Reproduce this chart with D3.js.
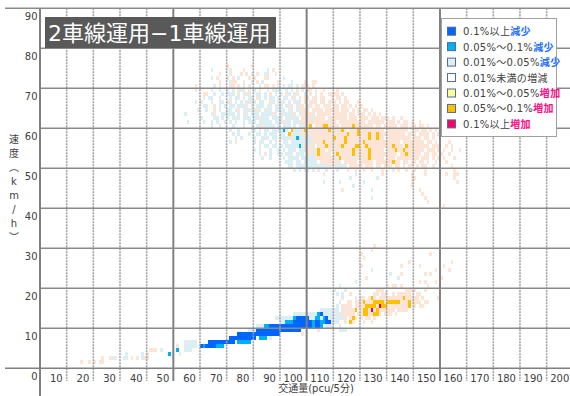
<!DOCTYPE html>
<html><head><meta charset="utf-8">
<script src="https://cdn.jsdelivr.net/npm/d3@7"></script>
<style>
body{margin:0;background:#fff}
svg{display:block}
text{font-family:"DejaVu Sans","Noto Sans CJK JP",sans-serif;fill:#404040}
</style>
</head><body>
<svg id="chart" width="570" height="396"></svg>
<script>
// ---- chart text ----
const chartTitle = "2車線運用−1車線運用";
const xTitle = "交通量(pcu/5分)";
const yTitleChars = ["速", "度", "︵", "k", "m", "/", "h", "︶"];
const xTickValues = d3.range(0, 201, 10);
const yTickValues = d3.range(0, 91, 10);

// ---- change classes (code, label, coloured suffix) ----
const classCodes = ["b", "c", "l", "n", "p", "o", "r"];
const classLabels = ["0.1%以上", "0.05%～0.1%", "0.01%～0.05%", "0.01%未満の増減", "0.01%～0.05%", "0.05%～0.1%", "0.1%以上"];
const classSuffix = ["減少", "減少", "減少", "", "増加", "増加", "増加"];

// ---- cells: [speed km/h, row string]; each char is one pcu step ----
// '.' none, b/c/l decrease classes, p/o/r increase classes; '|' every 10 pcu
const upperStartPcu = 50;
const upperRows = [
  [75, "..........|..........|p........p"],
  [74, "..........|....l.....|.p....p...|.....l.p.."],
  [73, "..........|.......p..|.l...p.p.l|.p..ll..p."],
  [72, "..........|....l.p...|p.p.l...p.|p...pp....|.l........"],
  [71, "..........|.......p..|.lpp..p..p|.p.l.....p|....l....p|..pp......"],
  [70, "........p.|.....l.p..|.pp.p.p.l.|..l.pp.p.l|.l.ll.l.pp|p.p......."],
  [69, "........p.|....p..l..|l.l.llp.p.|l.p..p.lll|..l.l.p.l.|pp.p..p...|.p........"],
  [68, "..........|.pp..l..l.|lll.p.lpl.|.ll.l.p.l.|l.pl.lp..l|.p.p.p..pp|pp.p......"],
  [67, "..........|.l.ll..p..|.l.ll.p.ll|.pl.l.ll.l|.ll.pl.p.p|p.pp.pp..p|.pp.p....."],
  [66, "........l.|p...l..ll.|lp.l.l.llp|l.ll..pl.l|pl.l.llp.p|.ppp.pp.pp|p.p.pp...p"],
  [65, "..........|.ll..p.l.l|.ll.lllp.l|.lll.ll.pl|l.lpl.lpp.|pp.pp.ppp.|pp.pp.p.p.|p........."],
  [64, ".........l|..l..p.l..|ll.lp.lllp|lpl.lpl.ll|ll.lp.lppp|p.pppp.ppp|pp.ppp.p.p|.pp.p....."],
  [63, "....l.....|....lp..ll|lll.l.pl.l|ll.llllpl.|lplllp.lpp|ppp.ppppp.|ppppp.pp.p|pp.p.p.p.."],
  [62, "..........|l....ll.l.|l.lpl.lll.|llplll.lll|l.llpll.pp|pplpppp.pp|ppppp.ppp.|ppp.ppp.pp|p.p..p...."],
  [61, ".....l....|.l..l.l..l|.l.l..l.ll|l.lllll.ll|llpl.llppp|pppppppppp|p.pppppppp|pp.pppppp.|ppp.p.pp.p|..p......."],
  [60, "..........|....l..l..|..l...l..l|.llpllll.l|.lll.l.llp|po.pppoopp|pp.ppppopp|ppppp.pp.p|pppp.ppp.p|p.pp.p...."],
  [59, "..........|..........|.l..l....l|l.l.ll.lll|lcl.olllpo|ppppppppop|pppop.pppo|ppppppppp.|pppppppp.p|pp.pp.p.p."],
  [58, "..........|..........|..l.l...l.|.ll.l.lll.|ll.ollllpp|lppppppppp|pppppopppo|pppoppoppp|ppppppp.pp|p.pppp.p.p"],
  [57, "..........|..........|...l.l....|l..lll.ll.|llllplcllp|plpppppppp|opppoppppp|pppoppopp.|ppppppppp.|ppp.pp.p.."],
  [56, "..........|..........|.l.p......|l.ll..l.l.|.ll.llllll|llppppoppp|ppppoppppp|popppppppp|ppppp.pppp|pppp.pp.p.|...p......"],
  [55, "..........|..........|..........|..l.ll.ll.|l.lllllclp|lpp.pppopp|pppoppppoo|ppoppppppp|ppoppp.opp|pppppp.ppp|..p.p....."],
  [54, "..........|..........|..........|l.l...l..l|.l.lll.lll|lpplopp.pp|pppppppopp|pppoppppp.|pppoppoppp|pppp.ppp.p|.p..p..p.."],
  [53, "..........|..........|..........|..l.p.l..l|l.lll.lll.|lplpopppp.|popppppopp|pppopppppp|pppp.ppopp|ppp.pp.pp.|p..p......"],
  [52, "..........|..........|..........|...l..l...|.l.llll.ll|lllppppppp|plopppplpp|pppoppppp.|ppp.pppppp|pp.ppp.p.p|.p...p...."],
  [51, "..........|..........|..........|..........|..lll.ll.l|llll.ppppp|ppl.ppppp.|ppppp.pppp|ppopp.pp.p|p.pp.p..p.|..p......."],
  [50, "..........|..........|..........|..........|...ll.llll|llllllllpp|llpll.pppp|p.ppp.pp.p|pp.pp.p.pp|.p.pp..p..|....p....."],
  [49, "..........|..........|..........|..........|.....l.l.l|l.l.p..l..|.l...p..p.|.p..p...p.|..p.p..p..|p...p.....|.....p...."],
  [48, "..........|..........|..........|..........|..........|......p...|........l.|........p.|.........p|....p.....|..p..pp..."],
  [47, "..........|..........|..........|..........|..........|..........|......l...|......l...|.........p|p.........|.....p...."],
  [46, "..........|..........|..........|..........|..........|......l...|..l.......|.l........|.........p|..........|......p..."],
  [45, "..........|..........|..........|..........|..........|..........|.......l..|..........|.........p"],
  [44, "..........|..........|..........|..........|..........|..........|...p......|....l.....|..........|..p......."],
  [43, "..........|..........|..........|..........|..........|..........|..........|..........|..........|...p......"],
  [42, "..........|..........|..........|..........|..........|..........|..........|....l.....|..........|....p....."],
  [41, "..........|..........|..........|..........|..........|..........|..........|..........|..........|.....p...."],
  [40, "..........|..........|..........|..........|..........|..........|..........|..........|..........|..........|.p........"]
];

const lowerStartPcu = 10;
const lowerRows = [
  [30, "..........|..........|..........|..........|..........|..........|..........|..........|..........|..........|..........|.....p...."],
  [29, "..........|..........|..........|..........|..........|..........|..........|..........|..........|..........|..........|....p....."],
  [28, "..........|..........|..........|..........|..........|..........|..........|..........|..........|..........|..........|p.........|..........|......p..."],
  [27, "..........|..........|..........|..........|..........|..........|..........|..........|..........|..........|..........|.p........"],
  [26, "..........|..........|..........|..........|..........|..........|..........|..........|..........|..........|..........|..........|........p.|..........|....p....."],
  [25, "..........|..........|..........|..........|..........|..........|..........|..........|..........|..........|..........|p.........|.....p....|..p.......|.p........"],
  [24, "..........|..........|..........|..........|..........|..........|..........|..........|..........|..........|..........|....l.....|..........|........p.|...p......"],
  [23, "..........|..........|..........|..........|..........|..........|..........|..........|..........|..........|..........|..........|.l...p....|....p.p..."],
  [22, "..........|..........|..........|..........|..........|..........|..........|..........|..........|..........|..........|..p.......|....l.....|..........|p........."],
  [21, "..........|..........|..........|..........|..........|..........|..........|..........|..........|..........|........l.|..........|..........|..p.p...p."],
  [20, "..........|..........|..........|..........|..........|..........|..........|..........|..........|..........|..l.......|..........|p.pp.p....|.....p...."],
  [19, "..........|..........|..........|..........|..........|..........|..........|..........|..........|..........|l...l.....|......ppp.|.......ppp|p...p....."],
  [18, "..........|..........|..........|..........|..........|..........|..........|..........|..........|..........|.l.l..p...|.....pp.pp|..p.ppppp.|.pp......."],
  [17, "..........|..........|..........|..........|..........|..........|..........|..........|..........|..........|...l....l.|pp.pop.ppp|ppppppoppp|pp.p.....p"],
  [16, "..........|..........|..........|..........|..........|..........|..........|..........|..........|..........|..l..pp.pp|popppoooop|ooooopppop|ppp.pp...."],
  [15, "..........|..........|..........|..........|..........|..........|..........|..........|..........|..........|.l.pppp.pp|ppooooproo|ppppppppo.|p.pp......"],
  [14, "..........|..........|..........|..........|..........|..........|..........|..........|..........|.....lllll|ll.lppppo.|pooprpoppp|ppp.pppp.."],
  [13, "..........|..........|..........|..........|..........|..........|..........|..........|.....lllll|llllcbllll|llpppppp.p|pooppoop.p|pp.p......"],
  [12, "..........|..........|..........|..........|..........|..........|..........|........ll|lllllcbbbb|bllcclcbll|llllp.pop.|p.pp.p...."],
  [11, "..........|..........|..........|..........|..........|..........|..........|..........|llcccbbbbb|bbcbbccbbl|ll..p.op..|.p..p....."],
  [10, "..........|..........|..........|..........|..........|..........|..........|.lllccbbbb|bbbbbbbbbb|bbcbbc.lll|..l......."],
  [9,  "..........|..........|..........|..........|..........|..........|........ll|lbbbbbbbbb|bbbbbbbb..|....p.....|..lll....."],
  [8,  "..........|..........|..........|..........|..........|..........|....bbbbbb|bbbbbbbbbb|........p."],
  [7,  "..........|..........|..........|..........|..........|..........|.bbbbbbbbb|b.ccc.l..."],
  [6,  "..........|..........|..........|..........|....lllll.|...bbbbbbb|bbb.ccccc."],
  [5,  "..........|..........|..........|..........|.p..lllll.|bcbbbbccc."],
  [4,  "..........|..........|..........|.ppp.l....|.c..lll..."],
  [3,  "..........|..........|..l.....l.|p.......c.|..p......."],
  [2,  "..........|...p..plp.|.ll.p.p.lp|p........."],
  [1,  ".....p..p.|p.pp......"]
];

// ---- layout ----
const W = 570, H = 396;
const svg = d3.select("#chart");
const x = d3.scaleLinear().domain([0, 200]).range([40, 573.3]);
const y = d3.scaleLinear().domain([0, 90]).range([368.3, 8.3]);

// plot colours by class
const cellColor = d3.scaleOrdinal().domain(classCodes)
  .range(["#0066ff", "#00b0f0", "#daeef3", "#ffffff", "#fce4d6", "#ffc000", "#f0006c"]);
const swatchColor = d3.scaleOrdinal().domain(classCodes)
  .range(["#0066ff", "#00b0f0", "#daeef3", "#ffffff", "#ffff99", "#ffc000", "#ff0066"]);

function parseRows(rows, start) {
  const out = [];
  rows.forEach(([speed, s]) => {
    const chars = s.replace(/\|/g, "");
    for (let j = 0; j < chars.length; j++) {
      if (chars[j] !== ".") out.push({pcu: start + j, speed, code: chars[j]});
    }
  });
  return out;
}
const cells = parseRows(upperRows, upperStartPcu).concat(parseRows(lowerRows, lowerStartPcu));

// ---- cells ----
svg.append("g").attr("shape-rendering", "crispEdges")
  .selectAll("rect").data(cells).join("rect")
  .attr("x", d => x(d.pcu))
  .attr("y", d => y(d.speed + 1))
  .attr("width", d => x(d.pcu + 1) - x(d.pcu))
  .attr("height", d => y(d.speed) - y(d.speed + 1))
  .attr("fill", d => cellColor(d.code));

// ---- grid ----
const grid = svg.append("g");
// vertical lines every 10 pcu, extended below the axis as tick separators
grid.selectAll("line.v").data(xTickValues.filter(v => v > 0)).join("line")
  .attr("x1", d => x(d)).attr("x2", d => x(d))
  .attr("y1", y(90)).attr("y2", 381)
  .attr("stroke", d => d % 50 === 0 ? "#808080" : "#a0a0a0")
  .attr("stroke-width", d => d % 50 === 0 ? 2 : 1.6)
  .attr("stroke-dasharray", d => d % 50 === 0 ? null : "2,1");
// horizontal lines every 10 km/h
grid.selectAll("line.h").data(yTickValues.filter(v => v > 0 && v < 90)).join("line")
  .attr("x1", x(0)).attr("x2", W)
  .attr("y1", d => y(d)).attr("y2", d => y(d))
  .attr("stroke", "#8a8a8a").attr("stroke-width", 1.6);
// outer lines: top, x axis, y axis
grid.append("line").attr("x1", 5).attr("x2", W).attr("y1", y(90)).attr("y2", y(90))
  .attr("stroke", "#8a8a8a").attr("stroke-width", 1.6);
grid.append("line").attr("x1", 5).attr("x2", W).attr("y1", y(0)).attr("y2", y(0))
  .attr("stroke", "#808080").attr("stroke-width", 1.6);
grid.append("line").attr("x1", x(0)).attr("x2", x(0)).attr("y1", y(90)).attr("y2", H)
  .attr("stroke", "#808080").attr("stroke-width", 2);

// ---- tick labels (the shared origin "0" comes from the y axis) ----
svg.append("g").selectAll("text").data(xTickValues.filter(v => v > 0)).join("text")
  .attr("x", d => x(d) - 4).attr("y", 382)
  .attr("text-anchor", "end").attr("font-size", 10)
  .text(d => d);
svg.append("g").selectAll("text").data(yTickValues).join("text")
  .attr("x", 37.5).attr("y", d => y(d) + 12)
  .attr("text-anchor", "end").attr("font-size", 10)
  .text(d => d);

// axis titles
svg.append("text").attr("x", 316).attr("y", 392).attr("text-anchor", "middle")
  .attr("font-size", 10).attr("font-family", "Noto Sans CJK JP").text(xTitle);
svg.append("g").selectAll("text").data(yTitleChars).join("text")
  .attr("x", 14).attr("y", (d, i) => 143 + i * 14)
  .attr("text-anchor", "middle").attr("font-size", 10)
  .attr("font-family", "Noto Sans CJK JP")
  .text(d => d);

// ---- title box ----
svg.append("rect").attr("x", 45).attr("y", 17).attr("width", 231).attr("height", 31)
  .attr("fill", "#595959");
svg.append("text").attr("x", 48).attr("y", 41)
  .attr("font-size", 22).attr("font-family", "Noto Sans CJK JP")
  .style("fill", "#ffffff").text(chartTitle);

// ---- legend ----
const lg = svg.append("g");
lg.append("rect").attr("x", 441.5).attr("y", 18.5).attr("width", 115).attr("height", 118)
  .attr("fill", "#ffffff").attr("stroke", "#a0a0a0");
const item = lg.selectAll("g.item").data(classCodes).join("g")
  .attr("transform", (d, i) => `translate(0,${31.7 + i * 15.45})`);
item.append("rect").attr("x", 447.5).attr("y", -4.5).attr("width", 8).attr("height", 8)
  .attr("fill", d => swatchColor(d)).attr("stroke", "#4f6d96");
const lt = item.append("text").attr("x", 463).attr("y", 3.5).attr("font-size", 10)
  .attr("letter-spacing", 0.3);
lt.append("tspan").text((d, i) => classLabels[i]);
lt.append("tspan").attr("font-weight", "bold")
  .style("fill", (d, i) => classSuffix[i] === "減少" ? "#1e6eff" : "#ff0a84")
  .text((d, i) => classSuffix[i]);
</script>
</body></html>
